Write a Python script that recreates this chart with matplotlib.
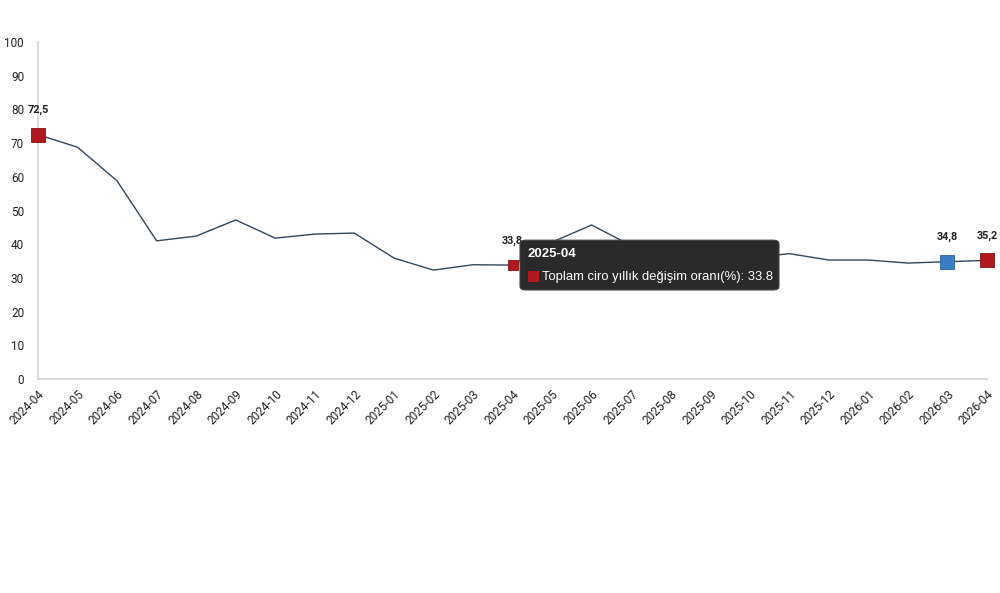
import matplotlib.pyplot as plt
from matplotlib.patches import FancyBboxPatch

# monthly values
months = ['2024-04', '2024-05', '2024-06', '2024-07', '2024-08', '2024-09',
          '2024-10', '2024-11', '2024-12', '2025-01', '2025-02', '2025-03',
          '2025-04', '2025-05', '2025-06', '2025-07', '2025-08', '2025-09',
          '2025-10', '2025-11', '2025-12', '2026-01', '2026-02', '2026-03',
          '2026-04']
ciro = [72.5, 68.8, 58.8, 41.0, 42.4, 47.2, 41.8, 43.0, 43.3, 35.9, 32.3, 33.9,
        33.8, 40.6, 45.7, 39.6, 37.8, 38.3, 35.9, 37.2, 35.3, 35.3, 34.4, 34.8,
        35.2]
red_idx = [0, 24]
blue_idx = [23]
label_idx = [0, 12, 23, 24]
hover_idx = 12
series_name = 'Toplam ciro yıllık değişim oranı(%)'

RED = '#b0191e'
BLUE = '#3b7dc2'
LINE = '#34475a'
GRID = '#d4d4d4'

plt.rcParams['font.family'] = ['Roboto', 'DejaVu Sans']

fig = plt.figure(figsize=(10, 5.93), dpi=100)
ax = fig.add_axes([0.038, 0.361, 0.949, 0.568])

x = list(range(len(months)))
ax.plot(x, ciro, color=LINE, lw=1.0, zorder=2)

for i in red_idx:
    ax.plot(x[i], ciro[i], 's', ms=10, color=RED, mec='#8a1014', mew=0.6,
            zorder=3, clip_on=False)
for i in blue_idx:
    ax.plot(x[i], ciro[i], 's', ms=10, color=BLUE, mec='#2a5f99', mew=0.6,
            zorder=3, clip_on=False)
# hovered point, drawn a bit smaller
ax.plot(x[hover_idx], ciro[hover_idx], 's', ms=7, color=RED, mec='#8a1014',
        mew=0.6, zorder=3)

for i in label_idx:
    txt = f'{ciro[i]:.1f}'.replace('.', ',')
    ax.annotate(txt, (x[i], ciro[i]), xytext=(0, 14), textcoords='offset points',
                ha='center', va='bottom', fontsize=7.8, fontweight='bold',
                color='#222222', zorder=4, annotation_clip=False)

ax.set_xlim(0, len(months) - 1)
ax.set_ylim(0, 100)
ax.set_yticks(range(0, 101, 10))
ax.set_xticks(x)
ax.set_xticklabels(months, rotation=45, ha='right', rotation_mode='anchor')
ax.tick_params(axis='both', length=0, labelsize=8.5, colors='#222222')
ax.tick_params(axis='y', pad=10)
ax.tick_params(axis='x', pad=6)
for side in ['top', 'right']:
    ax.spines[side].set_visible(False)
for side in ['left', 'bottom']:
    ax.spines[side].set_color(GRID)
    ax.spines[side].set_linewidth(1.2)

# hover tooltip for the highlighted month
box = FancyBboxPatch((0.52, 0.511), 0.259, 0.084, transform=fig.transFigure,
                     boxstyle='round,pad=0,rounding_size=0.006',
                     fc='#2a2a2a', ec='#444444', lw=0.8, zorder=10)
fig.patches.append(box)
fig.text(0.527, 0.571, months[hover_idx], color='white', fontsize=9.5,
         fontweight='bold', family=['Liberation Sans'], va='center', zorder=11)
fig.patches.append(plt.Rectangle((0.528, 0.524), 0.011, 0.019,
                                 transform=fig.transFigure, fc=RED, ec='none',
                                 zorder=11))
fig.text(0.542, 0.533, f'{series_name}: {ciro[hover_idx]}', color='white',
         fontsize=9.4, family=['Liberation Sans'], va='center', zorder=11)

fig.savefig('out.png', dpi=100)
